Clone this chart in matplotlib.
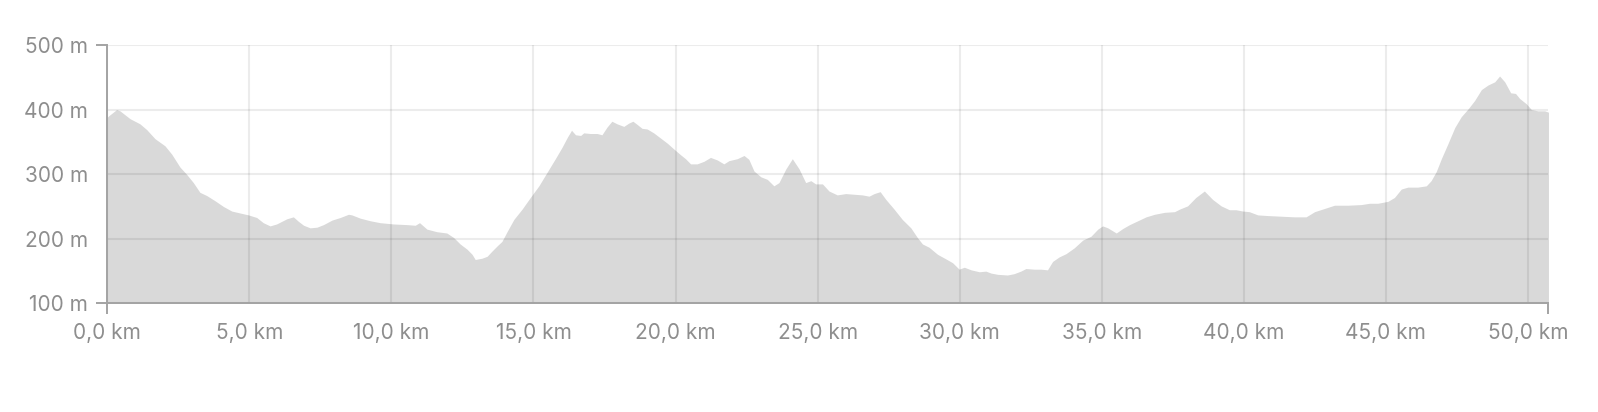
import matplotlib.pyplot as plt
from matplotlib.ticker import FuncFormatter

# -----------------------------
# ELEVATION PROFILE DATA
# -----------------------------

dist_km = [
    0.0, 0.04, 0.33, 0.45, 0.8, 1.15, 1.39, 1.68, 2.03, 2.27, 2.56, 2.79, 3.03,
    3.26, 3.5, 3.79, 4.09, 4.38, 4.67, 4.97, 5.26, 5.49, 5.73, 5.96, 6.32, 6.55,
    6.73, 6.91, 7.14, 7.38, 7.61, 7.91, 8.2, 8.49, 8.61, 8.9, 9.25, 9.6, 10.07,
    10.54, 10.84, 10.99, 11.25, 11.6, 11.95, 12.19, 12.42, 12.66, 12.84, 12.95,
    13.19, 13.37, 13.54, 13.72, 13.89, 14.07, 14.31, 14.6, 14.89, 15.19, 15.48,
    15.77, 16.01, 16.19, 16.34, 16.48, 16.66, 16.77, 17.0, 17.24, 17.41, 17.59,
    17.76, 17.94, 18.18, 18.35, 18.5, 18.65, 18.82, 19.0, 19.23, 19.47, 19.71,
    19.94, 20.18, 20.35, 20.53, 20.76, 21.0, 21.23, 21.47, 21.7, 21.88, 22.17,
    22.41, 22.58, 22.76, 23.0, 23.23, 23.46, 23.64, 23.88, 24.11, 24.35, 24.58,
    24.76, 24.93, 25.17, 25.4, 25.69, 25.99, 26.28, 26.57, 26.81, 26.99, 27.2,
    27.4, 27.69, 27.98, 28.28, 28.51, 28.69, 28.92, 29.22, 29.51, 29.75, 29.98,
    30.16, 30.4, 30.69, 30.92, 31.1, 31.34, 31.68, 31.91, 32.15, 32.33, 32.62,
    32.86, 33.09, 33.27, 33.5, 33.74, 34.03, 34.33, 34.62, 34.86, 35.03, 35.21,
    35.51, 35.74, 35.98, 36.27, 36.56, 36.86, 37.21, 37.56, 37.74, 38.02, 38.31,
    38.61, 38.9, 39.2, 39.49, 39.72, 39.96, 40.19, 40.49, 40.84, 41.31, 41.78,
    42.19, 42.49, 42.84, 43.19, 43.66, 44.13, 44.42, 44.71, 45.07, 45.3, 45.54,
    45.77, 46.12, 46.42, 46.59, 46.77, 46.95, 47.18, 47.42, 47.65, 47.89, 48.12,
    48.36, 48.59, 48.83, 49.0, 49.18, 49.39, 49.56, 49.71, 49.94, 50.12, 50.35,
    50.59, 50.72,
]

elev_m = [
    388, 390, 400, 398, 386, 378, 369, 355, 344, 331, 311, 300, 287,
    272, 267, 259, 250, 243, 240, 237, 233, 225, 220, 223, 231, 234,
    227, 221, 217, 218, 222, 229, 233, 238, 237, 232, 228, 225, 223,
    222, 221, 225, 215, 211, 209, 202, 192, 184, 176, 168,
    170, 173, 181, 189, 196, 211, 230, 246, 264, 282, 303,
    324, 342, 357, 368, 361, 360, 364, 363, 363, 361, 373,
    382, 378, 374, 379, 382, 377, 371, 370, 364, 356, 348,
    339, 330, 324, 316, 316, 320, 326, 322, 316, 321, 324,
    329, 323, 305, 296, 292, 282, 287, 308, 324, 308, 287,
    290, 285, 285, 274, 268, 270, 269, 268, 266, 270, 273,
    261, 246, 230, 217, 202, 192, 187, 176, 169, 163, 153,
    156, 152, 149, 150, 147, 145, 144, 146, 150, 154, 153,
    153, 152, 165, 172, 177, 186, 198, 204, 215, 220, 217,
    209, 216, 222, 228, 234, 238, 241, 242, 246, 251, 264,
    274, 261, 251, 245, 245, 243, 242, 237, 236, 235, 234,
    234, 242, 247, 252, 252, 253, 255, 255, 258, 264, 277,
    280, 280, 282, 290, 304, 324, 347, 372, 389, 401, 414,
    431, 438, 443, 452, 443, 426, 425, 417, 409, 400, 398,
    398, 396,
]

x_ticks = [0, 5, 10, 15, 20, 25, 30, 35, 40, 45, 50]
y_ticks = [100, 200, 300, 400, 500]

# -----------------------------
# PLOT
# -----------------------------

text_gray = "#8e8e8e"
axis_gray = "#a3a3a3"

plt.rcParams['font.family'] = ['Inter', 'DejaVu Sans']

fig = plt.figure(figsize=(15.98, 4.12), dpi=100)
ax = fig.add_axes([0.0671, 0.2635, 0.9019, 0.6273])

ax.fill_between(dist_km, 0, elev_m, color="#d9d9d9", linewidth=0, zorder=1)

ax.set_xlim(0, dist_km[-1])
ax.set_ylim(100, 500)

# grid drawn over the fill, semi-transparent
ax.set_xticks(x_ticks)
ax.set_yticks(y_ticks)
ax.grid(True, color="black", alpha=0.075, linewidth=1.5, zorder=2)
ax.set_axisbelow(False)

ax.xaxis.set_major_formatter(FuncFormatter(lambda v, p: f"{v:.1f}".replace(".", ",") + " km"))
ax.yaxis.set_major_formatter(FuncFormatter(lambda v, p: f"{v:.0f} m"))

# outer ticks only at the ends of each axis
ax.set_xticks([0, dist_km[-1]], minor=True)
ax.set_yticks([100, 500], minor=True)
ax.xaxis.remove_overlapping_locs = False
ax.yaxis.remove_overlapping_locs = False
ax.tick_params(which="major", length=0, labelsize=15, colors=text_gray)
ax.tick_params(axis="x", which="major", pad=14)
ax.tick_params(axis="y", which="major", pad=14)
ax.tick_params(which="minor", length=8, width=1.4, color=axis_gray)

for side in ["top", "right"]:
    ax.spines[side].set_visible(False)
for side in ["left", "bottom"]:
    ax.spines[side].set_color(axis_gray)
    ax.spines[side].set_linewidth(1.4)
    ax.spines[side].set_zorder(3)

fig.savefig("out.png", dpi=100, facecolor="white")
